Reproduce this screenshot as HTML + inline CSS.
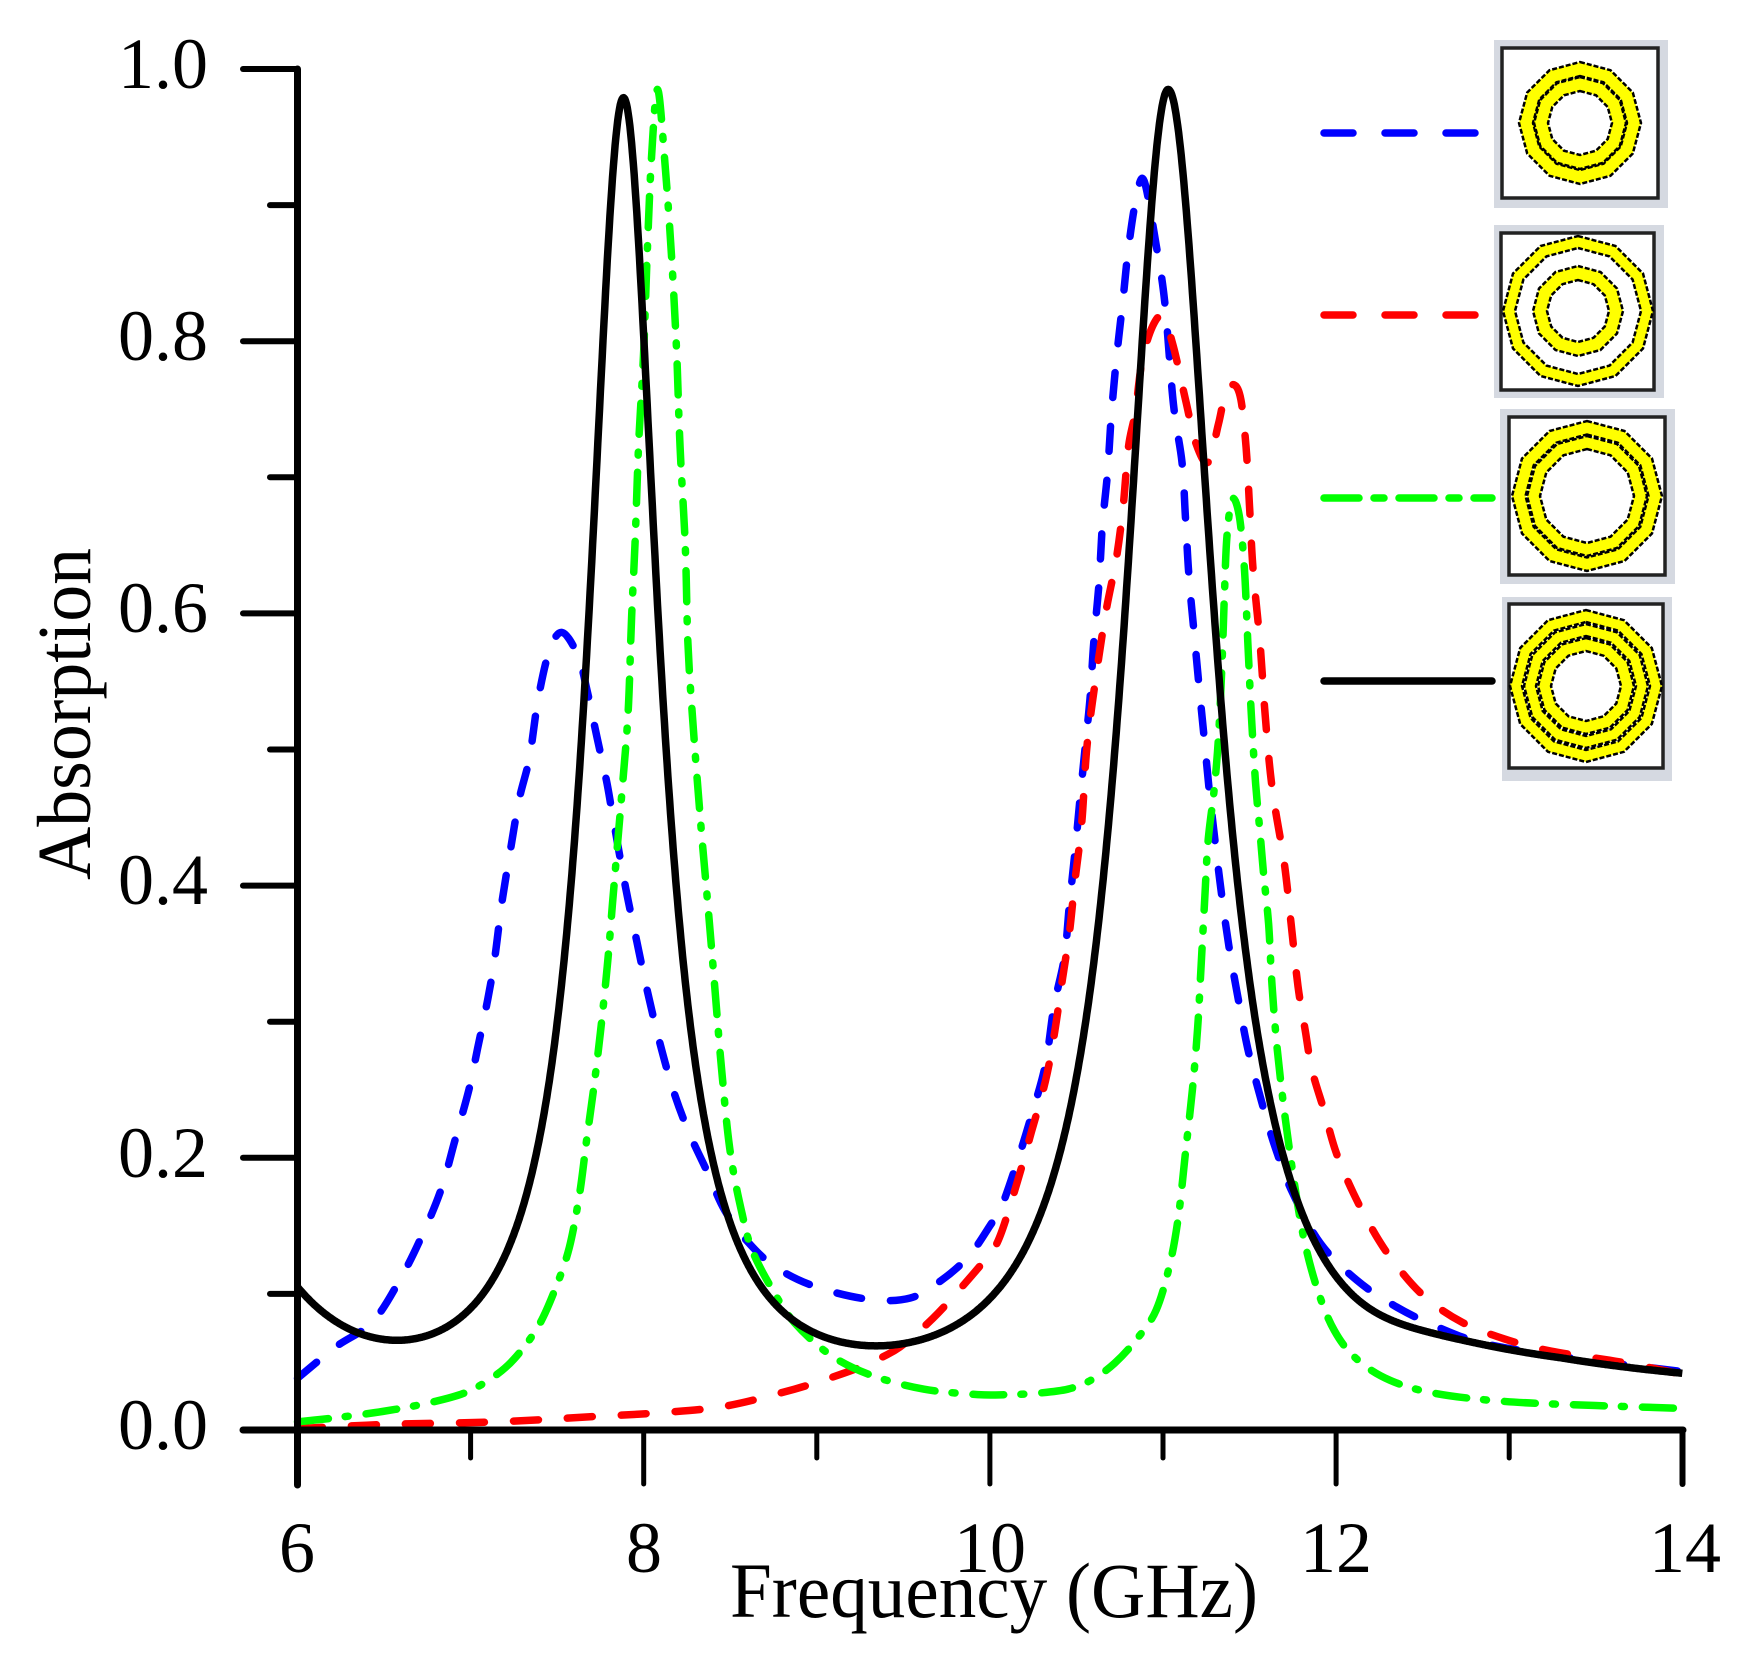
<!DOCTYPE html>
<html><head><meta charset="utf-8">
<style>
html,body{margin:0;padding:0;background:#fff;}
svg{display:block;}
text{font-family:"Liberation Serif","Times New Roman",serif;fill:#000;}
</style></head><body>
<svg id="s" width="1746" height="1666" viewBox="0 0 1746 1666" xmlns="http://www.w3.org/2000/svg">
<rect width="1746" height="1666" fill="#fff"/>
<g id="curves" fill="none" stroke-width="7.5" stroke-linejoin="round"></g>
<g stroke="#000" fill="none" stroke-linecap="round">
<line x1="297.5" y1="69" x2="297.5" y2="1485" stroke-width="7"/>
<line x1="243" y1="1430" x2="1683" y2="1430" stroke-width="7"/>
<line x1="243" y1="69" x2="297.5" y2="69" stroke-width="6"/>
<line x1="243" y1="341.2" x2="297.5" y2="341.2" stroke-width="6"/>
<line x1="243" y1="613.4" x2="297.5" y2="613.4" stroke-width="6"/>
<line x1="243" y1="885.6" x2="297.5" y2="885.6" stroke-width="6"/>
<line x1="243" y1="1157.8" x2="297.5" y2="1157.8" stroke-width="6"/>
<line x1="270" y1="205.1" x2="297.5" y2="205.1" stroke-width="6"/>
<line x1="270" y1="477.3" x2="297.5" y2="477.3" stroke-width="6"/>
<line x1="270" y1="749.5" x2="297.5" y2="749.5" stroke-width="6"/>
<line x1="270" y1="1021.7" x2="297.5" y2="1021.7" stroke-width="6"/>
<line x1="270" y1="1293.9" x2="297.5" y2="1293.9" stroke-width="6"/>
<line x1="643.7" y1="1430" x2="643.7" y2="1484" stroke-width="5"/>
<line x1="989.9" y1="1430" x2="989.9" y2="1484" stroke-width="5"/>
<line x1="1336.1" y1="1430" x2="1336.1" y2="1484" stroke-width="5"/>
<line x1="1682.5" y1="1430" x2="1682.5" y2="1484" stroke-width="6"/>
<line x1="470.6" y1="1430" x2="470.6" y2="1458" stroke-width="5"/>
<line x1="816.8" y1="1430" x2="816.8" y2="1458" stroke-width="5"/>
<line x1="1163" y1="1430" x2="1163" y2="1458" stroke-width="5"/>
<line x1="1509.2" y1="1430" x2="1509.2" y2="1458" stroke-width="5"/>
</g>
<g font-size="72" text-anchor="end">
<text x="208" y="88">1.0</text>
<text x="208" y="360">0.8</text>
<text x="208" y="632">0.6</text>
<text x="208" y="904">0.4</text>
<text x="208" y="1177">0.2</text>
<text x="208" y="1449">0.0</text>
</g>
<g font-size="72" text-anchor="middle">
<text x="297" y="1572">6</text>
<text x="644" y="1572">8</text>
<text x="990" y="1572">10</text>
<text x="1336" y="1572">12</text>
<text x="1685" y="1572">14</text>
</g>
<text x="994" y="1617" font-size="78" text-anchor="middle" textLength="528" lengthAdjust="spacingAndGlyphs">Frequency (GHz)</text>
<text transform="translate(90,714) rotate(-90)" font-size="76" text-anchor="middle" textLength="332" lengthAdjust="spacingAndGlyphs">Absorption</text>
<!-- legend -->
<g>
<rect x="1494" y="40" width="174" height="168" fill="#d5d9e1"/>
<rect x="1502" y="48" width="156" height="150" fill="#fff" stroke="#222" stroke-width="3.5"/>
<rect x="1494" y="225" width="170" height="173" fill="#d5d9e1"/>
<rect x="1501" y="233" width="153" height="157" fill="#fff" stroke="#222" stroke-width="3.5"/>
<rect x="1500" y="409" width="175" height="175" fill="#d5d9e1"/>
<rect x="1509" y="417" width="156" height="158" fill="#fff" stroke="#222" stroke-width="3.5"/>
<rect x="1502" y="597" width="170" height="184" fill="#d5d9e1"/>
<rect x="1509" y="604" width="154" height="164" fill="#fff" stroke="#222" stroke-width="3.5"/>
</g>
<g id="rings"></g>
<g fill="none" stroke-width="7.5" stroke-linecap="round">
<line x1="1324" y1="133" x2="1478" y2="133" stroke="#0000ff" stroke-dasharray="29 32"/>
<line x1="1324" y1="315" x2="1478" y2="315" stroke="#ff0000" stroke-dasharray="29 32"/>
<line x1="1324" y1="498" x2="1492" y2="498" stroke="#00ff00" stroke-dasharray="35 15 10 15"/>
<line x1="1324" y1="681" x2="1492" y2="681" stroke="#000000"/>
</g>
</svg>
<script>
(function(){
var X=function(f){return 297.5+(f-6)*173.1;};
var Y=function(a){return 1430-a*1361;};
function path(data){
  var p=data.map(function(d){return [X(d[0]),Y(d[1])];});
  var n=p.length, s='M'+p[0][0].toFixed(1)+','+p[0][1].toFixed(1);
  for(var i=0;i<n-1;i++){
    var p0=p[Math.max(i-1,0)],p1=p[i],p2=p[i+1],p3=p[Math.min(i+2,n-1)];
    var c1x=p1[0]+(p2[0]-p0[0])/6,c1y=p1[1]+(p2[1]-p0[1])/6;
    var c2x=p2[0]-(p3[0]-p1[0])/6,c2y=p2[1]-(p3[1]-p1[1])/6;
    s+=' C'+c1x.toFixed(1)+','+c1y.toFixed(1)+' '+c2x.toFixed(1)+','+c2y.toFixed(1)+' '+p2[0].toFixed(1)+','+p2[1].toFixed(1);
  }
  return s;
}
var blue=[[6.0,.038],[6.22,.061],[6.43,.079],[6.59,.11],[6.72,.143],[6.83,.177],[6.91,.213],[6.99,.25],[7.04,.28],[7.10,.317],[7.14,.347],[7.18,.387],[7.23,.426],[7.28,.463],[7.34,.494],[7.39,.537],[7.456,.573],[7.53,.586],[7.62,.569],[7.67,.545],[7.73,.509],[7.785,.477],[7.82,.452],[7.89,.402],[7.96,.359],[8.02,.323],[8.09,.286],[8.17,.25],[8.26,.219],[8.37,.189],[8.47,.161],[8.61,.137],[8.77,.119],[9.0,.105],[9.30,.096],[9.54,.097],[9.72,.11],[9.88,.128],[10.0,.15],[10.07,.165],[10.16,.198],[10.24,.231],[10.32,.268],[10.37,.311],[10.43,.347],[10.46,.387],[10.49,.423],[10.52,.463],[10.55,.501],[10.58,.540],[10.60,.579],[10.63,.622],[10.65,.665],[10.68,.704],[10.70,.743],[10.73,.786],[10.77,.832],[10.80,.868],[10.845,.905],[10.89,.918],[10.96,.871],[11.01,.829],[11.06,.754],[11.11,.711],[11.13,.67],[11.15,.627],[11.18,.585],[11.21,.544],[11.24,.506],[11.27,.467],[11.33,.402],[11.38,.356],[11.43,.32],[11.49,.28],[11.57,.241],[11.65,.207],[11.75,.174],[11.91,.137],[12.12,.11],[12.34,.091],[12.58,.076],[12.84,.064],[13.24,.055],[13.6,.049],[14.0,.043]];
var red=[[6.0,.001],[6.49,.004],[7.15,.006],[7.68,.0096],[8.08,.0126],[8.47,.0175],[8.87,.030],[9.14,.041],[9.30,.049],[9.48,.061],[9.67,.082],[9.83,.104],[9.99,.128],[10.06,.143],[10.16,.183],[10.24,.219],[10.32,.256],[10.37,.289],[10.42,.332],[10.46,.366],[10.49,.402],[10.53,.445],[10.56,.501],[10.61,.551],[10.67,.601],[10.73,.64],[10.77,.679],[10.80,.722],[10.84,.748],[10.88,.786],[10.94,.811],[11.0,.818],[11.06,.796],[11.13,.757],[11.19,.725],[11.26,.711],[11.32,.739],[11.36,.761],[11.41,.768],[11.45,.757],[11.48,.722],[11.50,.679],[11.52,.633],[11.56,.579],[11.59,.526],[11.63,.472],[11.70,.417],[11.74,.372],[11.78,.326],[11.82,.295],[11.86,.265],[11.93,.235],[12.0,.204],[12.10,.174],[12.23,.143],[12.36,.119],[12.52,.097],[12.73,.079],[12.97,.067],[13.24,.058],[13.64,.050],[14.0,.041]];
var green=[[6.0,.006],[6.22,.009],[6.49,.0136],[6.75,.0197],[6.96,.027],[7.12,.038],[7.25,.052],[7.39,.076],[7.49,.104],[7.57,.134],[7.63,.174],[7.67,.213],[7.71,.25],[7.75,.292],[7.79,.341],[7.82,.387],[7.85,.432],[7.875,.47],[7.91,.527],[7.93,.597],[7.95,.651],[7.97,.722],[8.0,.793],[8.02,.864],[8.045,.935],[8.08,.985],[8.12,.935],[8.16,.864],[8.19,.793],[8.21,.722],[8.24,.651],[8.255,.58],[8.28,.527],[8.33,.445],[8.37,.387],[8.41,.326],[8.45,.265],[8.50,.204],[8.57,.158],[8.63,.131],[8.74,.104],[8.87,.079],[9.08,.055],[9.32,.040],[9.62,.030],[9.93,.026],[10.10,.026],[10.27,.027],[10.45,.030],[10.59,.037],[10.72,.049],[10.85,.067],[10.96,.088],[11.04,.122],[11.09,.158],[11.13,.204],[11.17,.25],[11.20,.295],[11.22,.341],[11.24,.387],[11.26,.432],[11.295,.47],[11.32,.508],[11.34,.561],[11.355,.615],[11.37,.657],[11.40,.684],[11.44,.672],[11.47,.633],[11.49,.579],[11.51,.526],[11.535,.475],[11.56,.44],[11.58,.41],[11.61,.372],[11.63,.326],[11.66,.28],[11.70,.235],[11.75,.189],[11.81,.143],[11.89,.104],[11.99,.073],[12.12,.052],[12.31,.0366],[12.57,.027],[12.97,.021],[13.5,.018],[13.97,.016]];
function blackF(f){
  var d1=(f-7.883)/0.248;
  var g2=(f<11.03)?0.309:0.33;
  var d2=(f-11.03)/g2;
  var v=0.965/(1+d1*d1)+0.976/(1+d2*d2)+0.082*Math.exp(-(f-6)/0.48)+0.028/(1+Math.exp(-(f-12.3)/0.2))+0.003;
  if(f>13.3) v-=0.004*(f-13.3);
  return v;
}
var NS='http://www.w3.org/2000/svg';
var g=document.getElementById('curves');
function add(d,color,dash){
  var e=document.createElementNS(NS,'path');
  e.setAttribute('d',d);
  e.setAttribute('stroke',color);
  if(dash){e.setAttribute('stroke-dasharray',dash);e.setAttribute('stroke-linecap','round');}
  g.appendChild(e);
}
add(path(blue),'#0000ff','25 29');
add(path(red),'#ff0000','25 29');
add(path(green),'#00ff00','31 17 3 18');
var bd='';
for(var i=0;i<=1600;i++){
  var f=6+i*0.005;
  bd+=(i?'L':'M')+X(f).toFixed(1)+','+Y(blackF(f)).toFixed(1);
}
add(bd,'#000000',null);
var rg=document.getElementById('rings');
function poly(cx,cy,r){
  var s='';
  for(var k=0;k<12;k++){var a=-Math.PI/2+k*Math.PI/6;s+=(k?'L':'M')+(cx+r*Math.cos(a)).toFixed(1)+','+(cy+r*Math.sin(a)).toFixed(1);}
  return s+'Z';
}
function ring(cx,cy,R,r){
  var e=document.createElementNS(NS,'path');
  e.setAttribute('d',poly(cx,cy,R)+poly(cx,cy,r));
  e.setAttribute('fill','#ffff00');
  e.setAttribute('fill-rule','evenodd');
  e.setAttribute('stroke','#000');
  e.setAttribute('stroke-width','2.5');
  e.setAttribute('stroke-dasharray','5 2');
  rg.appendChild(e);
}
ring(1580,123,61,47);ring(1580,123,46,32);
ring(1578,311,75,63);ring(1578,311,45,31);
ring(1587,496,75,61.5);ring(1587,496,60,47);
ring(1586,686,76,64);ring(1586,686,62,50);ring(1586,686,48,35);
})();
</script>
</body></html>
